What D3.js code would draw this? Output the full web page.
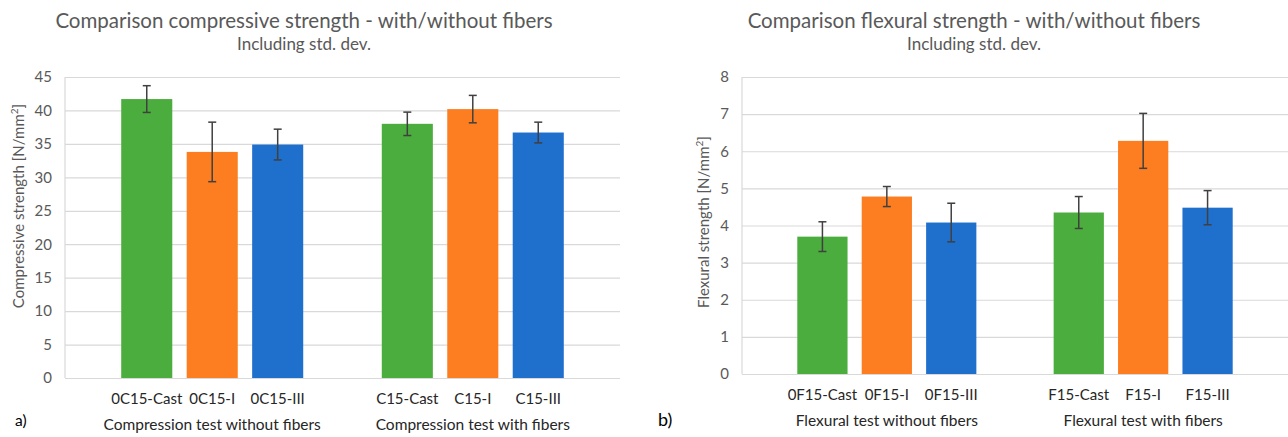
<!DOCTYPE html>
<html>
<head>
<meta charset="utf-8">
<script src="https://cdn.jsdelivr.net/npm/d3@7"></script>
<style>
  body { margin: 0; background: #fff; }
  svg { display: block; font-family: Lato, "Open Sans", sans-serif; }
</style>
</head>
<body>
<svg id="chart" width="1288" height="437"></svg>
<script>
// Compression test data (N/mm2)
const compGroups = ["Compression test without fibers", "Compression test with fibers"];
const compLabels = [["0C15-Cast", "0C15-I", "0C15-III"], ["C15-Cast", "C15-I", "C15-III"]];
const compMeans = [[41.7, 33.8, 34.9], [38.0, 40.2, 36.7]];
const compStd = [[2.0, 4.45, 2.3], [1.75, 2.05, 1.55]];
const compTicks = [0, 5, 10, 15, 20, 25, 30, 35, 40, 45];

// Flexural test data (N/mm2)
const flexGroups = ["Flexural test without fibers", "Flexural test with fibers"];
const flexLabels = [["0F15-Cast", "0F15-I", "0F15-III"], ["F15-Cast", "F15-I", "F15-III"]];
const flexMeans = [[3.7, 4.78, 4.08], [4.35, 6.28, 4.48]];
const flexStd = [[0.4, 0.27, 0.52], [0.43, 0.74, 0.46]];
const flexTicks = [0, 1, 2, 3, 4, 5, 6, 7, 8];

const colors = ["#4bad3d", "#fd7d21", "#1f6fcc"];

const svg = d3.select("#chart");

// Draw one panel (a or b)
function drawPanel(opt) {
  const g = svg.append("g");

  const y = d3.scaleLinear().domain(opt.domain).range([opt.bottom, opt.top]);
  const x0 = d3.scaleBand().domain(opt.groups).range([opt.left, opt.right])
    .paddingInner(0).paddingOuter(0.065);
  const x1 = d3.scaleBand().domain([0, 1, 2]).range([0, x0.bandwidth()])
    .paddingInner(0.22).paddingOuter(0.6);

  // gridlines
  g.append("g")
    .attr("transform", `translate(${opt.left},0)`)
    .call(d3.axisLeft(y).tickValues(opt.ticks).tickSize(-(opt.right - opt.left)).tickFormat(""))
    .call((s) => s.select(".domain").remove())
    .call((s) => s.selectAll("line").attr("stroke", "#d9d9d9").attr("stroke-width", 1.2));

  // left border line
  g.append("line")
    .attr("x1", opt.left).attr("x2", opt.left)
    .attr("y1", y(opt.domain[1])).attr("y2", y(0))
    .attr("stroke", "#d9d9d9").attr("stroke-width", 1.2);

  // tick labels
  g.append("g")
    .attr("transform", `translate(${opt.tickX},0)`)
    .call(d3.axisLeft(y).tickValues(opt.ticks).tickSize(0).tickPadding(0))
    .call((s) => s.select(".domain").remove())
    .call((s) => s.selectAll("text")
      .attr("fill", "#595959")
      .style("font-size", "15px")
      .style("font-family", "Lato, sans-serif"));

  const data = [];
  opt.groups.forEach((grp, gi) => {
    opt.labels[gi].forEach((lab, i) => {
      data.push({ grp, i, lab, mean: opt.means[gi][i], sd: opt.std[gi][i] });
    });
  });

  const bx = (d) => x0(d.grp) + x1(d.i);

  // bars
  g.selectAll(".bar").data(data).enter().append("rect")
    .attr("x", bx)
    .attr("y", (d) => y(d.mean))
    .attr("width", x1.bandwidth())
    .attr("height", (d) => y(0) - y(d.mean))
    .attr("fill", (d) => colors[d.i]);

  // error bars
  const eb = g.selectAll(".err").data(data).enter().append("g")
    .attr("stroke", "#404040").attr("stroke-width", 1.5);
  const cx = (d) => bx(d) + x1.bandwidth() / 2;
  eb.append("line")
    .attr("x1", cx).attr("x2", cx)
    .attr("y1", (d) => y(d.mean + d.sd)).attr("y2", (d) => y(d.mean - d.sd));
  eb.append("line")
    .attr("x1", (d) => cx(d) - 4).attr("x2", (d) => cx(d) + 4)
    .attr("y1", (d) => y(d.mean + d.sd)).attr("y2", (d) => y(d.mean + d.sd));
  eb.append("line")
    .attr("x1", (d) => cx(d) - 4).attr("x2", (d) => cx(d) + 4)
    .attr("y1", (d) => y(d.mean - d.sd)).attr("y2", (d) => y(d.mean - d.sd));

  // category labels
  g.selectAll(".cat").data(data).enter().append("text")
    .attr("x", cx)
    .attr("y", opt.bottom + 26)
    .attr("text-anchor", "middle")
    .attr("fill", "#262626")
    .style("font-size", "15px")
    .text((d) => d.lab);

  // group labels
  g.selectAll(".grp").data(opt.groups).enter().append("text")
    .attr("x", (d) => x0(d) + x0.bandwidth() / 2)
    .attr("y", opt.bottom + 52)
    .attr("text-anchor", "middle")
    .attr("fill", "#262626")
    .style("font-size", "15.5px")
    .text((d) => d);

  // titles
  g.append("text")
    .attr("x", opt.titleX).attr("y", 28)
    .attr("text-anchor", "middle")
    .attr("fill", "#595959")
    .style("font-size", "20.5px")
    .text(opt.title);
  g.append("text")
    .attr("x", opt.titleX).attr("y", 50)
    .attr("text-anchor", "middle")
    .attr("fill", "#595959")
    .style("font-size", "17px")
    .text("Including std. dev.");

  // y axis title
  const yt = g.append("text")
    .attr("transform", `translate(${opt.yTitleX},${opt.yTitleY}) rotate(-90)`)
    .attr("text-anchor", "middle")
    .attr("fill", "#595959")
    .style("font-size", "15px");
  yt.append("tspan").text(opt.yTitle + " [N/mm");
  yt.append("tspan").attr("baseline-shift", "super").style("font-size", "10px").text("2");
  yt.append("tspan").text("]");

  // panel letter
  g.append("text")
    .attr("x", opt.letterX).attr("y", 426)
    .attr("fill", "#000")
    .style("font-size", opt.letterSize)
    .text(opt.letter);
}

drawPanel({
  groups: compGroups, labels: compLabels, means: compMeans, std: compStd,
  ticks: compTicks, domain: [0, 45],
  left: 65, right: 620, top: 77, bottom: 378, tickX: 52,
  title: "Comparison compressive strength - with/without fibers", titleX: 304,
  yTitle: "Compressive strength", yTitleX: 24, yTitleY: 206,
  letter: "a)", letterX: 15, letterSize: "15.5px"
});

drawPanel({
  groups: flexGroups, labels: flexLabels, means: flexMeans, std: flexStd,
  ticks: flexTicks, domain: [0, 8],
  left: 742, right: 1288, top: 77, bottom: 374, tickX: 729,
  title: "Comparison flexural strength - with/without fibers", titleX: 974,
  yTitle: "Flexural strength", yTitleX: 709, yTitleY: 222,
  letter: "b)", letterX: 658, letterSize: "18px"
});
</script>
</body>
</html>
